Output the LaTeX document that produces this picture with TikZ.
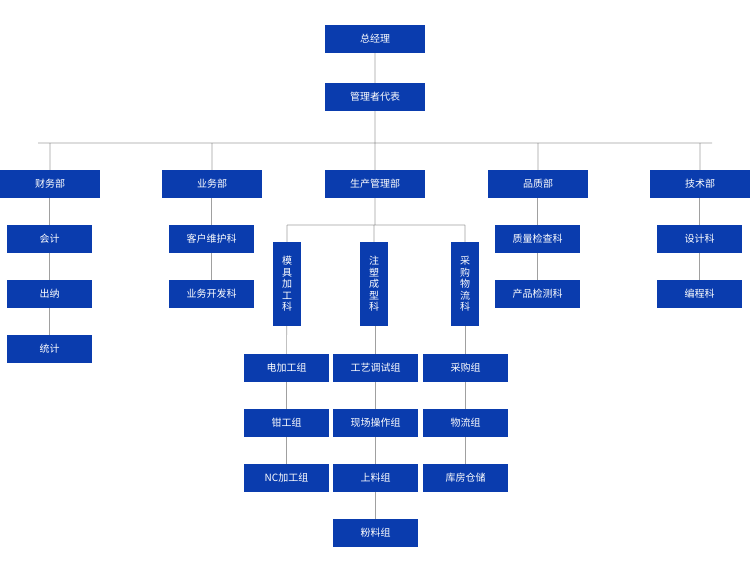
\documentclass[tikz,border=0pt]{standalone}
\usepackage{fontspec}
\newfontfamily\cjk{Noto Sans CJK SC}
\definecolor{bx}{HTML}{0A3CAE}
\definecolor{ln}{HTML}{A0A0A0}
\begin{document}
\begin{tikzpicture}[x=1pt,y=-1pt,
  bbox/.style={fill=bx,text=white,font=\cjk\fontsize{10}{12}\selectfont,inner sep=0pt,minimum height=28pt},
  wide/.style={bbox,minimum width=100pt},
  mid/.style={bbox,minimum width=85pt},
  vert/.style={bbox,minimum width=28pt,minimum height=84pt,align=center,font=\cjk\fontsize{10}{11.5}\selectfont},
  conn/.style={draw=ln,line width=0.6pt}]
\useasboundingbox (0,0) rectangle (750,560);
\node[wide] (gm) at (375,39) {总经理};
\node[wide] (rep) at (375,97) {管理者代表};
\node[wide] (cw) at (50,184) {财务部};
\node[wide] (yw) at (212,184) {业务部};
\node[wide] (sc) at (375,184) {生产管理部};
\node[wide] (pz) at (538,184) {品质部};
\node[wide] (js) at (700,184) {技术部};
\coordinate (hl) at (38,143);
\coordinate (hr) at (712,143);
\coordinate (hm) at (375,143);
\node[mid] (kj) at (49.5,239) {会计};
\node[mid] (cn) at (49.5,294) {出纳};
\node[mid] (tj) at (49.5,349) {统计};
\node[mid] (kh) at (211.5,239) {客户维护科};
\node[mid] (kf) at (211.5,294) {业务开发科};
\node[mid] (zl) at (537.5,239) {质量检查科};
\node[mid] (cp) at (537.5,294) {产品检测科};
\node[mid] (sj) at (699.5,239) {设计科};
\node[mid] (bc) at (699.5,294) {编程科};
\node[vert] (mj) at (287,284) {模\\具\\加\\工\\科};
\node[vert] (zs) at (374,284) {注\\塑\\成\\型\\科};
\node[vert] (cg) at (465,284) {采\\购\\物\\流\\科};
\coordinate (pl) at (287,225);
\coordinate (pr) at (465,225);
\coordinate (pm) at (375,225);
\node[mid] (a1) at (286.5,368) {电加工组};
\node[mid] (a2) at (286.5,423) {钳工组};
\node[mid] (a3) at (286.5,478) {NC加工组};
\node[mid] (b1) at (375.5,368) {工艺调试组};
\node[mid] (b2) at (375.5,423) {现场操作组};
\node[mid] (b3) at (375.5,478) {上料组};
\node[mid] (b4) at (375.5,533) {粉料组};
\node[mid] (c1) at (465.5,368) {采购组};
\node[mid] (c2) at (465.5,423) {物流组};
\node[mid] (c3) at (465.5,478) {库房仓储};
\begin{scope}[on background layer/.try]
\end{scope}
\path[conn] (gm) -- (rep) (rep) -- (hm) (hl) -- (hr)
  (hm) -- (sc)
  (hl -| cw) -- (cw) (hl -| yw) -- (yw) (hl -| pz) -- (pz) (hl -| js) -- (js)
  (cw.south -| kj) -- (kj) (kj) -- (cn) (cn) -- (tj)
  (yw.south -| kh) -- (kh) (kh) -- (kf)
  (pz.south -| zl) -- (zl) (zl) -- (cp)
  (js.south -| sj) -- (sj) (sj) -- (bc)
  (sc) -- (pm) (pl) -- (pr) (pl) -- (mj) (pm -| zs) -- (zs) (pr) -- (cg)
  (mj) -- (a1) (a1) -- (a2) (a2) -- (a3)
  (zs.south -| b1) -- (b1) (b1) -- (b2) (b2) -- (b3) (b3) -- (b4)
  (cg.south -| c1) -- (c1) (c1) -- (c2) (c2) -- (c3);
\end{tikzpicture}
\end{document}
